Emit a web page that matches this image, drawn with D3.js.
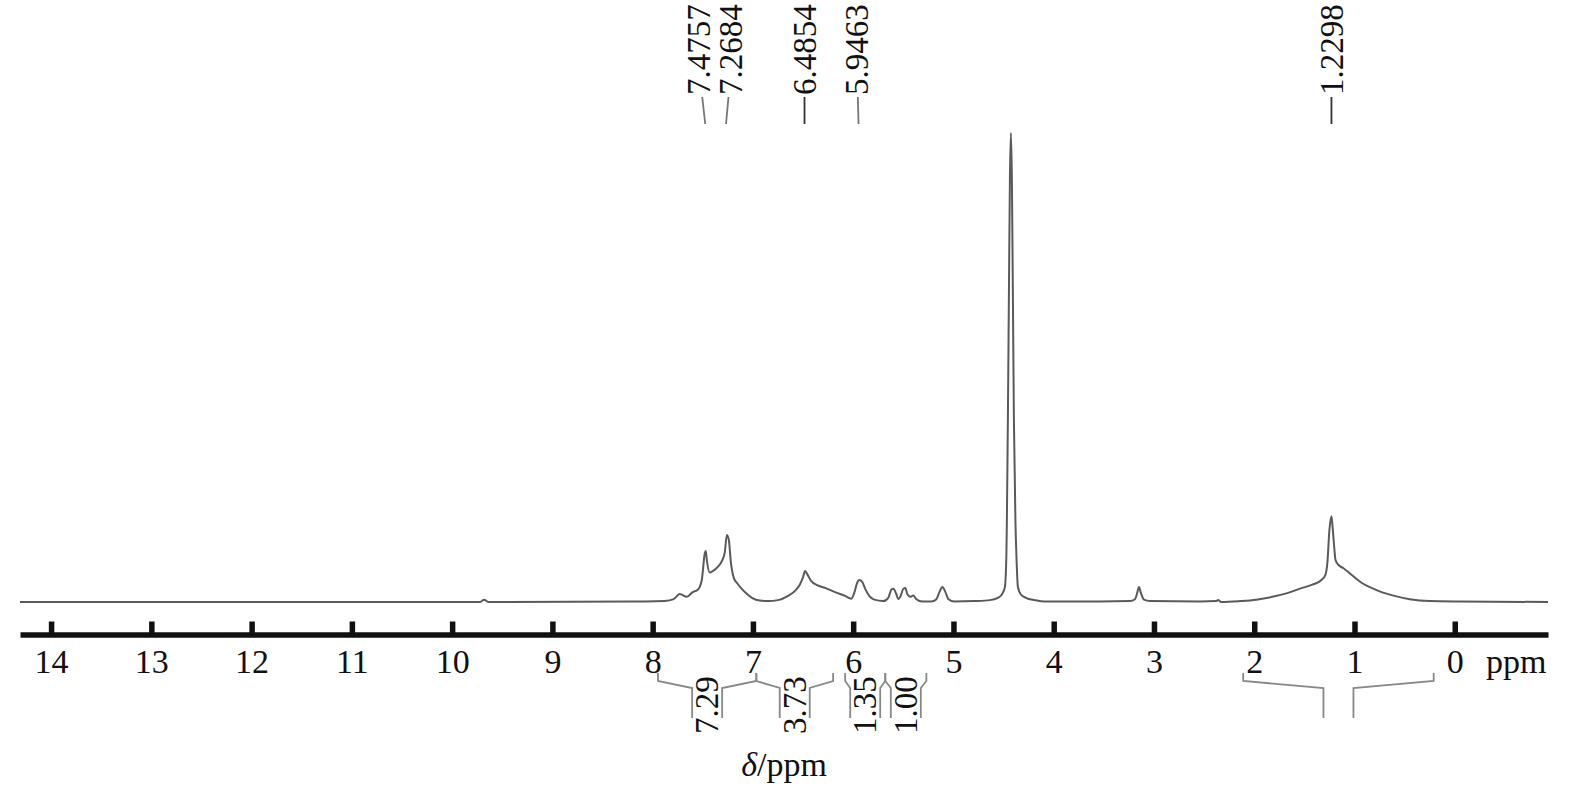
<!DOCTYPE html>
<html>
<head>
<meta charset="utf-8">
<script src="https://cdn.jsdelivr.net/npm/d3@7/dist/d3.min.js"></script>
<style>
  html, body { margin: 0; padding: 0; background: #fff; }
  svg { display: block; }
</style>
</head>
<body>
<svg id="chart" width="1575" height="790"></svg>
<script>
// ---------- data ----------
const spectrumPpm = [14.31,9.72,9.68,9.64,8.08,7.88,7.79,7.73,7.66,7.60,7.55,7.51,7.48,7.47,7.46,7.43,7.40,7.35,7.31,7.28,7.26,7.24,7.22,7.19,7.16,7.12,7.07,7.01,6.93,6.85,6.75,6.65,6.57,6.53,6.50,6.48,6.46,6.42,6.36,6.28,6.18,6.08,6.02,5.99,5.96,5.94,5.91,5.88,5.84,5.79,5.70,5.65,5.62,5.60,5.57,5.55,5.53,5.50,5.48,5.46,5.43,5.40,5.37,5.31,5.22,5.17,5.14,5.11,5.08,5.05,4.99,4.79,4.637,4.557,4.517,4.487,4.472,4.467,4.457,4.447,4.437,4.427,4.417,4.407,4.397,4.382,4.372,4.357,4.327,4.277,4.188,4.09,3.54,3.24,3.19,3.17,3.15,3.13,3.10,3.04,2.54,2.38,2.36,2.33,2.14,1.98,1.82,1.67,1.55,1.42,1.33,1.29,1.27,1.25,1.23,1.22,1.20,1.19,1.16,1.11,1.03,0.93,0.83,0.73,0.60,0.45,0.25,-0.05,-0.93];
const spectrumInt = [0,0,0.5,0,0.1,0.2,0.6,1.7,1.1,2.1,2.6,4.7,10.4,10.9,9.0,6.3,6.6,7.5,8.7,10.7,14.3,13.2,8.5,5.1,4.1,3.0,1.9,0.9,0.3,0.2,0.4,1.3,2.6,3.8,5.3,6.6,6.0,4.5,3.6,3.0,2.1,1.3,0.7,1.9,4.1,4.7,4.3,2.8,1.3,0.5,0.2,0.9,2.6,2.8,1.7,0.6,1.1,2.8,3.0,1.7,1.1,1.4,0.6,0.1,0.1,0.6,2.1,3.2,2.1,0.6,0.1,0.2,0.4,0.9,1.6,3.2,10,17.5,39,65,90,100,90,65,39,17.5,10,3.2,1.6,0.9,0.4,0.1,0.1,0.2,0.6,1.7,3.2,1.9,0.5,0.2,0.1,0.2,0.4,0,0.2,0.5,1.1,1.9,2.8,3.7,4.7,5.8,8.5,15.4,18.3,16.4,11.1,9.0,7.9,7.2,5.8,4.1,3.0,2.1,1.3,0.6,0.2,0.1,0];

const tickValues = [14,13,12,11,10,9,8,7,6,5,4,3,2,1,0];
const axisUnit = "ppm";
const axisTitleSymbol = "δ";
const axisTitleRest = "/ppm";

const peakPpm    = [7.4757, 7.2684, 6.4854, 5.9463, 1.2298];
const peakLabels = ["7.4757", "7.2684", "6.4854", "5.9463", "1.2298"];

const integralStart = [7.947, 6.966, 6.08, 5.68, 2.11];
const integralEnd   = [6.966, 6.20, 5.68, 5.27, 0.21];
const integralLabels = ["7.29", "3.73", "1.35", "1.00", ""];

// ---------- layout ----------
const FONT = '"Liberation Serif", "Times New Roman", Times, serif';
const svg = d3.select("#chart");
const axisY = 634.5;
const x = d3.scaleLinear().domain([14.31, -0.93]).range([20, 1548]);
const y = d3.scaleLinear().domain([0, 100]).range([602, 133]);
const labelShift = [-6, 5, 0, -1.5, 0];

// spectrum
const pts = spectrumPpm.map((p, i) => [p, spectrumInt[i]]);
const line = d3.line().x(d => x(d[0])).y(d => y(d[1])).curve(d3.curveMonotoneX);
svg.append("path").datum(pts)
  .attr("d", line)
  .attr("fill", "none")
  .attr("stroke", "#5a5a5a")
  .attr("stroke-width", 2)
  .attr("stroke-linejoin", "round");

// axis
const axis = d3.axisBottom(x).tickValues(tickValues).tickSizeInner(-13).tickSizeOuter(0)
  .tickPadding(14).tickFormat(d3.format("d"));
const gAxis = svg.append("g").attr("transform", `translate(0,${axisY})`).call(axis)
  .attr("font-family", FONT).attr("font-size", 34);
gAxis.select(".domain").attr("stroke", "#111").attr("stroke-width", 5.5);
gAxis.selectAll(".tick line").attr("stroke", "#111").attr("stroke-width", 5.5);
gAxis.selectAll(".tick text")
  .attr("font-family", FONT)
  .attr("font-size", 34).attr("fill", "#111");
svg.append("text").attr("x", 1486).attr("y", 672.5)
  .attr("font-family", FONT).attr("fill", "#111")
  .attr("font-size", 34).text(axisUnit);

// axis title
const title = svg.append("text").attr("x", 784).attr("y", 776)
  .attr("font-family", FONT).attr("fill", "#111")
  .attr("text-anchor", "middle").attr("font-size", 34);
title.append("tspan").attr("font-style", "italic").text(axisTitleSymbol);
title.append("tspan").text(axisTitleRest);

// peak labels
peakPpm.forEach((p, i) => {
  const px = x(p);
  const lx = px + labelShift[i];
  const topX = labelShift[i] === 0 ? px : (px + lx) / 2;
  svg.append("line")
    .attr("x1", px).attr("y1", 124).attr("x2", topX).attr("y2", 97)
    .attr("stroke", labelShift[i] === 0 ? "#333" : "#777")
    .attr("stroke-width", 1.8);
  svg.append("text")
    .attr("transform", `translate(${lx},95) rotate(-90)`)
    .attr("dy", "0.34em")
    .attr("font-family", FONT).attr("fill", "#111")
    .attr("font-size", 33)
    .text(peakLabels[i]);
});

// integrals
integralStart.forEach((s, i) => {
  const a = x(s), b = x(integralEnd[i]);
  const c = (a + b) / 2;
  const L = c - 15, R = c + 15;
  const path = d3.path();
  path.moveTo(a, 673); path.lineTo(a, 681); path.lineTo(L, 688); path.lineTo(L, 718);
  path.moveTo(R, 718); path.lineTo(R, 688); path.lineTo(b, 681); path.lineTo(b, 673);
  svg.append("path").attr("d", path.toString())
    .attr("fill", "none").attr("stroke", "#888").attr("stroke-width", 1.8);
  if (integralLabels[i]) {
    svg.append("text")
      .attr("transform", `translate(${c},734) rotate(-90)`)
      .attr("dy", "0.34em")
      .attr("font-family", FONT).attr("fill", "#111")
      .attr("font-size", 33)
      .text(integralLabels[i]);
  }
});
</script>
</body>
</html>
